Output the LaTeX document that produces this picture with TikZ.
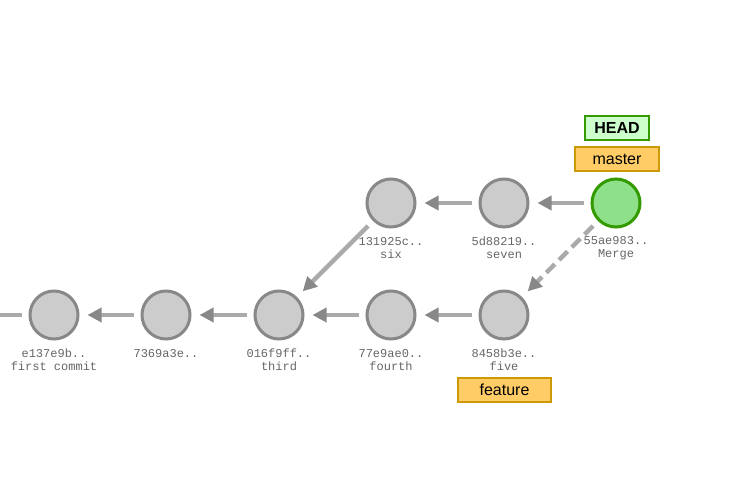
\documentclass[tikz,border=0pt]{standalone}
\usepackage{fontspec}
\setmainfont{Liberation Sans}
\newfontfamily\hashfont{Liberation Mono}
\usetikzlibrary{arrows.meta}
\definecolor{commitfill}{HTML}{CCCCCC}
\definecolor{commitedge}{HTML}{888888}
\definecolor{linkline}{HTML}{AAAAAA}
\definecolor{tipgray}{HTML}{888888}
\definecolor{headfill}{HTML}{8EE08A}
\definecolor{headedge}{HTML}{339A00}
\definecolor{headtagfill}{HTML}{CCFFCC}
\definecolor{branchfill}{HTML}{FFCC66}
\definecolor{branchedge}{HTML}{CC9A06}
\definecolor{labelgray}{HTML}{666666}
\tikzset{
  commit/.style={circle, draw=commitedge, fill=commitfill, line width=3pt, minimum size=48pt, inner sep=0pt},
  headcommit/.style={commit, draw=headedge, fill=headfill},
  link/.style={draw=linkline, line width=4.5pt, shorten <=7pt, shorten >=8pt,
    -{Triangle[length=14pt,width=14pt,color=tipgray]}},
  dashedlink/.style={link, dash pattern=on 12pt off 6pt},
  info/.style={font=\hashfont\fontsize{12}{12}\selectfont, text=labelgray, align=center, inner sep=0pt},
  branchtag/.style={draw=branchedge, fill=branchfill, line width=2pt, minimum height=24pt, inner sep=0pt,
    font=\fontsize{16}{16}\selectfont},
  headtag/.style={branchtag, draw=headedge, fill=headtagfill, font=\bfseries\fontsize{16}{16}\selectfont}
}
\begin{document}
\begin{tikzpicture}[x=1pt,y=-1pt]
\useasboundingbox (0,0) rectangle (742,489);
% commits
\node[commit] (c1) at (54,315) {};
\node[commit] (c2) at (166,315) {};
\node[commit] (c3) at (279,315) {};
\node[commit] (c4) at (391,315) {};
\node[commit] (c5) at (504,315) {};
\node[commit] (c6) at (391,203) {};
\node[commit] (c7) at (504,203) {};
\node[headcommit] (c8) at (616,203) {};
\coordinate (offleft) at (0,315);
% commit labels
\node[info] (l1) at (54,360) {e137e9b..\\[1pt]first commit};
\node[info] (l2) at (166,354) {7369a3e..};
\node[info] (l3) at (279,360) {016f9ff..\\[1pt]third};
\node[info] (l4) at (391,360) {77e9ae0..\\[1pt]fourth};
\node[info] (l5) at (504,360) {8458b3e..\\[1pt]five};
\node[info] (l6) at (391,248) {131925c..\\[1pt]six};
\node[info] (l7) at (504,248) {5d88219..\\[1pt]seven};
\node[info] (l8) at (616,248) {55ae983..\\[1pt]Merge};
% parent links
\draw[draw=linkline, line width=4.5pt] (c1.west) ++(-7,0) -- (offleft);
\draw[link] (c2) -- (c1);
\draw[link] (c3) -- (c2);
\draw[link] (c4) -- (c3);
\draw[link] (c5) -- (c4);
\draw[link] (c6) -- (c3);
\draw[link] (c7) -- (c6);
\draw[link] (c8) -- (c7);
\draw[dashedlink] (c8) -- (c5);
% refs
\node[headtag, minimum width=64pt] (head) at (617,128) {HEAD};
\node[branchtag, minimum width=84pt] (master) at (617,159) {master};
\node[branchtag, minimum width=93pt] (feature) at (504.5,390) {feature};
\end{tikzpicture}
\end{document}
